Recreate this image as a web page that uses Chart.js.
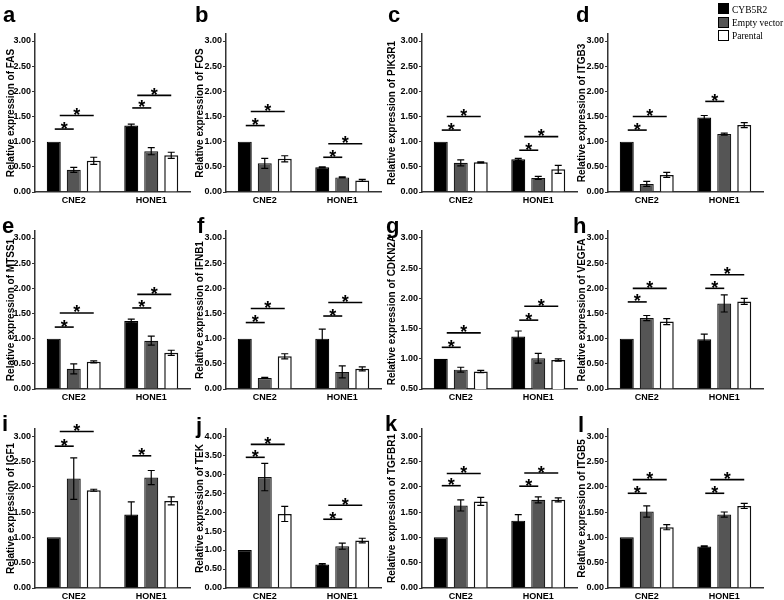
<!DOCTYPE html>
<html>
<head>
<meta charset="utf-8">
<script src="https://cdn.jsdelivr.net/npm/chart.js@4.4.1/dist/chart.umd.min.js"></script>
<style>
  body { margin: 0; background: #fff; }
  #fig { position: relative; width: 784px; height: 600px; overflow: hidden; }
  .panel { position: absolute; }
  .letter { position: absolute; font: bold 22px "Liberation Sans", Arial, sans-serif; line-height: 22px; color: #000; }
  #legend { position: absolute; left: 718px; top: 2px; font: 11px "Liberation Serif", "Times New Roman", serif; color: #000; }
  #legend .row { height: 13.4px; display: flex; align-items: center; white-space: nowrap; }
  #legend .sw { width: 9px; height: 9px; border: 1px solid #000; margin-right: 3px; flex: none; }
  #legend .txt { display: inline-block; transform: scaleX(0.86); transform-origin: left center; }
</style>
</head>
<body>
<div id="fig"></div>
<script>
// Data
const cellLines = ['CNE2', 'HONE1'];
const seriesNames = ['CYB5R2', 'Empty vector', 'Parental'];
const genes = ['FAS', 'FOS', 'PIK3R1', 'ITGB3', 'MTSS1', 'IFNB1', 'CDKN2A', 'VEGFA', 'IGF1', 'TEK', 'TGFBR1', 'ITGB5'];
const letters = ['a', 'b', 'c', 'd', 'e', 'f', 'g', 'h', 'i', 'j', 'k', 'l'];

// [CNE2, HONE1] per gene
const cyb5r2 = [[1.00, 1.32], [1.00, 0.49], [1.00, 0.65], [1.00, 1.48], [1.00, 1.35], [1.00, 1.00],
                [1.00, 1.37], [1.00, 0.99], [1.00, 1.45], [1.00, 0.62], [1.00, 1.33], [1.00, 0.82]];
const emptyVector = [[0.44, 0.81], [0.57, 0.29], [0.58, 0.28], [0.16, 1.15], [0.40, 0.96], [0.22, 0.34],
                     [0.82, 1.01], [1.41, 1.70], [2.16, 2.18], [2.92, 1.10], [1.63, 1.74], [1.51, 1.45]];
const parental = [[0.62, 0.73], [0.66, 0.23], [0.59, 0.45], [0.34, 1.33], [0.54, 0.72], [0.65, 0.40],
                  [0.79, 0.98], [1.34, 1.74], [1.93, 1.72], [1.95, 1.25], [1.71, 1.74], [1.20, 1.62]];

const cyb5r2Err = [[0, 0.03], [0, 0.01], [0, 0.02], [0, 0.04], [0, 0.04], [0, 0.19],
                   [0, 0.09], [0, 0.10], [0, 0.25], [0, 0.02], [0, 0.12], [0, 0.01]];
const emptyVectorErr = [[0.05, 0.07], [0.10, 0.01], [0.06, 0.03], [0.05, 0.02], [0.10, 0.09], [0.01, 0.12],
                        [0.04, 0.08], [0.05, 0.17], [0.41, 0.14], [0.36, 0.08], [0.11, 0.06], [0.11, 0.05]];
const parentalErr = [[0.07, 0.06], [0.06, 0.02], [0.01, 0.08], [0.05, 0.05], [0.02, 0.05], [0.05, 0.04],
                     [0.02, 0.02], [0.06, 0.06], [0.02, 0.08], [0.20, 0.06], [0.08, 0.04], [0.05, 0.05]];

// significance bars: [cell line index, compared series index, height]
const sigLines = [
  [[0, 1, 1.25], [0, 2, 1.52], [1, 1, 1.67], [1, 2, 1.92]],
  [[0, 1, 1.32], [0, 2, 1.60], [1, 1, 0.69], [1, 2, 0.96]],
  [[0, 1, 1.23], [0, 2, 1.50], [1, 1, 0.83], [1, 2, 1.10]],
  [[0, 1, 1.23], [0, 2, 1.50], [1, 1, 1.80]],
  [[0, 1, 1.23], [0, 2, 1.51], [1, 1, 1.61], [1, 2, 1.88]],
  [[0, 1, 1.32], [0, 2, 1.60], [1, 1, 1.45], [1, 2, 1.72]],
  [[0, 1, 1.19], [0, 2, 1.43], [1, 1, 1.64], [1, 2, 1.87]],
  [[0, 1, 1.73], [0, 2, 2.00], [1, 1, 2.00], [1, 2, 2.27]],
  [[0, 1, 2.80], [0, 2, 3.09], [1, 1, 2.61]],
  [[0, 1, 3.44], [0, 2, 3.78], [1, 1, 1.81], [1, 2, 2.18]],
  [[0, 1, 2.02], [0, 2, 2.26], [1, 1, 2.01], [1, 2, 2.27]],
  [[0, 1, 1.87], [0, 2, 2.14], [1, 1, 1.87], [1, 2, 2.14]]
];

const ticksStd = [0, 0.5, 1, 1.5, 2, 2.5, 3];
const ticksCdkn = [0.5, 1, 1.5, 2, 2.5, 3];
const ticksTek = [0, 0.5, 1, 1.5, 2, 2.5, 3, 3.5, 4];
const panelTicks = [ticksStd, ticksStd, ticksStd, ticksStd, ticksStd, ticksStd,
                    ticksCdkn, ticksStd, ticksStd, ticksTek, ticksStd, ticksStd];

// Layout
const cols = [{left: 0, yw: 35, tp: 5}, {left: 192, yw: 34, tp: 2}, {left: 384, yw: 38, tp: 2}, {left: 574, yw: 34, tp: 2}];
const rows = [{top: 0, h: 215, pt: 34}, {top: 197, h: 215, pt: 34}, {top: 396, h: 204, pt: 33}];
const letterPos = [[3, 21], [195, 21], [388, 21], [576, 21],
                   [2, 232], [197, 232], [386, 232], [573, 232],
                   [2, 430], [196, 432], [385, 430], [578, 431]];
const W = 196, PLOT_W = 155, PLOT_BOTTOM = 192;

Chart.defaults.font.family = '"Liberation Sans", Arial, sans-serif';
Chart.defaults.color = '#000';

const errorBars = {
  id: 'errorBars',
  afterDatasetsDraw(chart) {
    const ctx = chart.ctx, y = chart.scales.y;
    ctx.save();
    ctx.strokeStyle = '#000';
    ctx.lineWidth = 1.2;
    chart.data.datasets.forEach((ds, di) => {
      chart.getDatasetMeta(di).data.forEach((bar, i) => {
        const e = ds.errors[i];
        if (!e) return;
        const v = ds.data[i];
        const top = y.getPixelForValue(v + e), bot = y.getPixelForValue(v - e);
        ctx.beginPath();
        ctx.moveTo(bar.x, top); ctx.lineTo(bar.x, bot);
        ctx.moveTo(bar.x - 3.5, top); ctx.lineTo(bar.x + 3.5, top);
        ctx.moveTo(bar.x - 3.5, bot); ctx.lineTo(bar.x + 3.5, bot);
        ctx.stroke();
      });
    });
    ctx.restore();
  }
};

const sigMarks = {
  id: 'sigMarks',
  afterDatasetsDraw(chart, args, opts) {
    const ctx = chart.ctx, y = chart.scales.y;
    ctx.save();
    ctx.strokeStyle = '#000';
    ctx.fillStyle = '#000';
    ctx.lineWidth = 1.6;
    ctx.font = 'bold 18px "Liberation Sans", Arial, sans-serif';
    ctx.textAlign = 'center';
    opts.lines.forEach(([g, to, v]) => {
      const b0 = chart.getDatasetMeta(0).data[g];
      const b1 = chart.getDatasetMeta(to).data[g];
      const x1 = b0.x + (to === 2 ? 6 : 1), x2 = b1.x;
      const py = y.getPixelForValue(v);
      ctx.beginPath();
      ctx.moveTo(x1, py); ctx.lineTo(x2, py);
      ctx.stroke();
      ctx.fillText('*', (x1 + x2) / 2, py + 5.5);
    });
    ctx.restore();
  }
};

const fig = document.getElementById('fig');

genes.forEach((gene, i) => {
  const col = cols[i % 4], row = rows[Math.floor(i / 4)];
  const t = panelTicks[i];
  const tMin = t[0], tMax = t[t.length - 1];

  const canvas = document.createElement('canvas');
  canvas.className = 'panel';
  canvas.width = W;
  canvas.height = row.h;
  canvas.style.left = col.left + 'px';
  canvas.style.top = row.top + 'px';
  fig.appendChild(canvas);

  new Chart(canvas, {
    type: 'bar',
    data: {
      labels: cellLines,
      datasets: [
        { label: seriesNames[0], data: cyb5r2[i], errors: cyb5r2Err[i],
          backgroundColor: '#000', borderColor: '#000', borderWidth: 1.2 },
        { label: seriesNames[1], data: emptyVector[i], errors: emptyVectorErr[i],
          backgroundColor: '#555', borderColor: '#111', borderWidth: 1.2 },
        { label: seriesNames[2], data: parental[i], errors: parentalErr[i],
          backgroundColor: '#fff', borderColor: '#111', borderWidth: 1.5 }
      ]
    },
    options: {
      responsive: false,
      animation: false,
      categoryPercentage: 0.774,
      barPercentage: 0.7,
      layout: { padding: { top: row.pt, left: 0, right: W - col.yw - PLOT_W, bottom: 0 } },
      plugins: {
        legend: { display: false },
        tooltip: { enabled: false },
        sigMarks: { lines: sigLines[i] }
      },
      scales: {
        x: {
          grid: { display: false, drawTicks: false },
          border: { color: '#333', width: 1.5 },
          ticks: { color: '#000', padding: 3, font: { size: 9, weight: 'bold' } },
          afterFit: s => { s.height = row.h - PLOT_BOTTOM; }
        },
        y: {
          min: tMin,
          max: tMax + (tMax - tMin) * 7 / 151,
          afterBuildTicks: s => { s.ticks = t.map(v => ({ value: v })); },
          grid: { drawOnChartArea: false, tickLength: 3, color: '#333', tickWidth: 1.2 },
          border: { color: '#333', width: 1.5 },
          ticks: { color: '#000', padding: 1, font: { size: 9, weight: 'bold' }, callback: v => v.toFixed(2) },
          title: {
            display: true,
            text: 'Relative expression of ' + gene,
            color: '#000',
            font: { size: 10, weight: 'bold' },
            padding: { top: col.tp, bottom: 0 }
          },
          afterFit: s => { s.width = col.yw; }
        }
      }
    },
    plugins: [errorBars, sigMarks]
  });

  const lt = document.createElement('div');
  lt.className = 'letter';
  lt.textContent = letters[i];
  lt.style.left = letterPos[i][0] + 'px';
  lt.style.top = (letterPos[i][1] - 17) + 'px';
  fig.appendChild(lt);
});

// legend
const legendFills = ['#000', '#555', '#fff'];
const legend = document.createElement('div');
legend.id = 'legend';
seriesNames.forEach((name, k) => {
  const r = document.createElement('div');
  r.className = 'row';
  const sw = document.createElement('span');
  sw.className = 'sw';
  sw.style.background = legendFills[k];
  const tx = document.createElement('span');
  tx.className = 'txt';
  tx.textContent = name;
  r.appendChild(sw);
  r.appendChild(tx);
  legend.appendChild(r);
});
fig.appendChild(legend);
</script>
</body>
</html>
